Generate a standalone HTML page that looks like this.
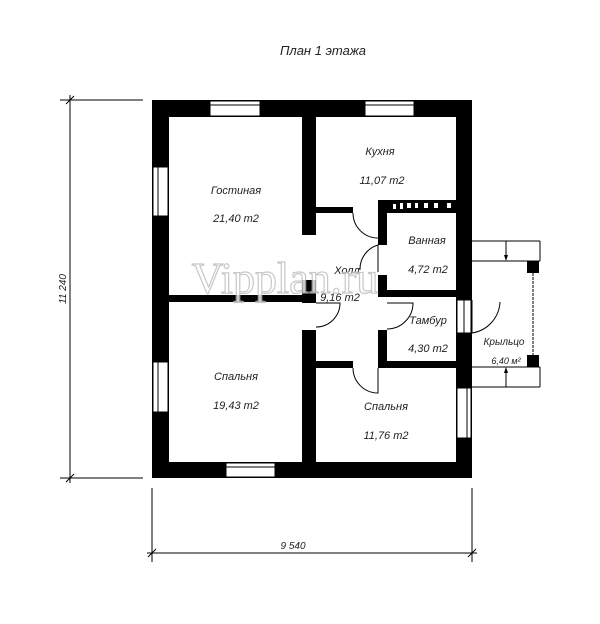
<!DOCTYPE html>
<html><head><meta charset="utf-8"><style>
html,body{margin:0;padding:0;background:#fff;width:600px;height:624px;overflow:hidden}
text{font-family:"Liberation Sans","DejaVu Sans",sans-serif;font-style:italic;fill:#222}
</style></head><body>
<svg width="600" height="624" viewBox="0 0 600 624" xmlns="http://www.w3.org/2000/svg">
<text x="323" y="55" font-size="13" text-anchor="middle">План 1 этажа</text>
<g stroke="#000" stroke-width="1" fill="none">
<line x1="60" y1="100" x2="143" y2="100"/>
<line x1="60" y1="478" x2="143" y2="478"/>
<line x1="70" y1="95" x2="70" y2="483"/>
<line x1="66" y1="104" x2="74" y2="96"/>
<line x1="66" y1="482" x2="74" y2="474"/>
<line x1="152" y1="488" x2="152" y2="562"/>
<line x1="472" y1="488" x2="472" y2="562"/>
<line x1="147" y1="553" x2="477" y2="553"/>
<line x1="148" y1="557" x2="156" y2="549"/>
<line x1="468" y1="557" x2="476" y2="549"/>
</g>
<text x="293" y="549" font-size="10" text-anchor="middle">9 540</text>
<text x="66" y="289" font-size="10" text-anchor="middle" transform="rotate(-90 66 289)">11 240</text>
<g stroke="#000" stroke-width="1" fill="none">
<line x1="472" y1="241" x2="540" y2="241"/>
<line x1="472" y1="261" x2="540" y2="261"/>
<line x1="472" y1="367" x2="540" y2="367"/>
<line x1="472" y1="387" x2="540" y2="387"/>
<line x1="540" y1="241" x2="540" y2="261"/>
<line x1="540" y1="367" x2="540" y2="387"/>
<line x1="506" y1="241" x2="506" y2="258"/>
<line x1="506" y1="372" x2="506" y2="387"/>
<line x1="533" y1="273" x2="533" y2="355" stroke-dasharray="3,1"/>
</g>
<polygon points="504,255 508,255 506,261" fill="#000"/>
<polygon points="504,373 508,373 506,367" fill="#000"/>
<rect x="527" y="261" width="12" height="12" fill="#000"/>
<rect x="527" y="355" width="12" height="12" fill="#000"/>
<text x="504" y="345" font-size="10" text-anchor="middle">Крыльцо</text>
<text x="506" y="364" font-size="9" text-anchor="middle">6,40 м²</text>
<g fill="#000">
<rect x="152" y="100" width="320" height="17"/>
<rect x="152" y="462" width="320" height="16"/>
<rect x="152" y="100" width="17" height="378"/>
<rect x="456" y="100" width="16" height="378"/>
<rect x="302" y="117" width="14" height="118"/>
<rect x="316" y="207" width="37" height="6"/>
<rect x="378" y="200" width="78" height="13"/>
<rect x="378" y="200" width="9" height="45"/>
<rect x="378" y="275" width="9" height="22"/>
<rect x="378" y="290" width="78" height="7"/>
<rect x="169" y="295" width="147" height="7"/>
<rect x="302" y="280" width="14" height="23"/>
<rect x="302" y="330" width="14" height="132"/>
<rect x="378" y="330" width="9" height="38"/>
<rect x="316" y="361" width="37" height="7"/>
<rect x="378" y="361" width="78" height="7"/>
</g>
<g fill="#fff"><rect x="393" y="204" width="3" height="5"/><rect x="400" y="203" width="3" height="6"/><rect x="407" y="203" width="4" height="5"/><rect x="415" y="203" width="3" height="5"/><rect x="424" y="203" width="4" height="5"/><rect x="434" y="203" width="4" height="5"/><rect x="447" y="203" width="4" height="5"/></g>
<g fill="#fff" stroke="#000" stroke-width="1">
<rect x="210" y="101" width="50" height="15"/>
<rect x="365" y="101" width="49" height="15"/>
<rect x="153" y="167" width="15" height="49"/>
<rect x="153" y="362" width="15" height="50"/>
<rect x="226" y="463" width="49" height="14"/>
<rect x="457" y="388" width="14" height="50"/>
<rect x="457" y="300" width="14" height="33"/>
</g>
<g stroke="#000" stroke-width="1" fill="none">
<line x1="210" y1="105" x2="260" y2="105"/><line x1="365" y1="105" x2="414" y2="105"/>
<line x1="158" y1="167" x2="158" y2="216"/><line x1="158" y1="362" x2="158" y2="412"/>
<line x1="226" y1="467" x2="275" y2="467"/><line x1="467" y1="388" x2="467" y2="438"/>
<line x1="464" y1="300" x2="464" y2="333"/>
<path d="M353 213 A25 25 0 0 0 378 238"/>
<path d="M378 245 L378 272 M360 270 A25 25 0 0 1 378 245"/>
<path d="M316 303 L340 303 A24 24 0 0 1 316 327"/>
<path d="M387 303 L413 303 A26 26 0 0 1 387 329"/>
<path d="M353 368 A25 25 0 0 0 378 393 L378 368"/>
<path d="M472 300 L472 333 A33 33 0 0 0 500 302"/>
</g>
<g font-size="11" text-anchor="middle">
<text x="236" y="194">Гостиная</text><text x="236" y="222">21,40 m2</text>
<text x="380" y="155">Кухня</text><text x="382" y="184">11,07 m2</text>
<text x="427" y="244">Ванная</text><text x="428" y="273">4,72 m2</text>
<text x="347" y="274">Холл</text><text x="340" y="301">9,16 m2</text>
<text x="428" y="324">Тамбур</text><text x="428" y="352">4,30 m2</text>
<text x="236" y="380">Спальня</text><text x="236" y="409">19,43 m2</text>
<text x="386" y="410">Спальня</text><text x="386" y="439">11,76 m2</text>
</g>
<text x="285" y="293" font-size="44" text-anchor="middle" style="font-family:'Liberation Serif',serif;font-style:normal;fill:#fff;stroke:#bbb;stroke-width:1.2;opacity:0.8">Vipplan.ru</text>
</svg>
</body></html>
